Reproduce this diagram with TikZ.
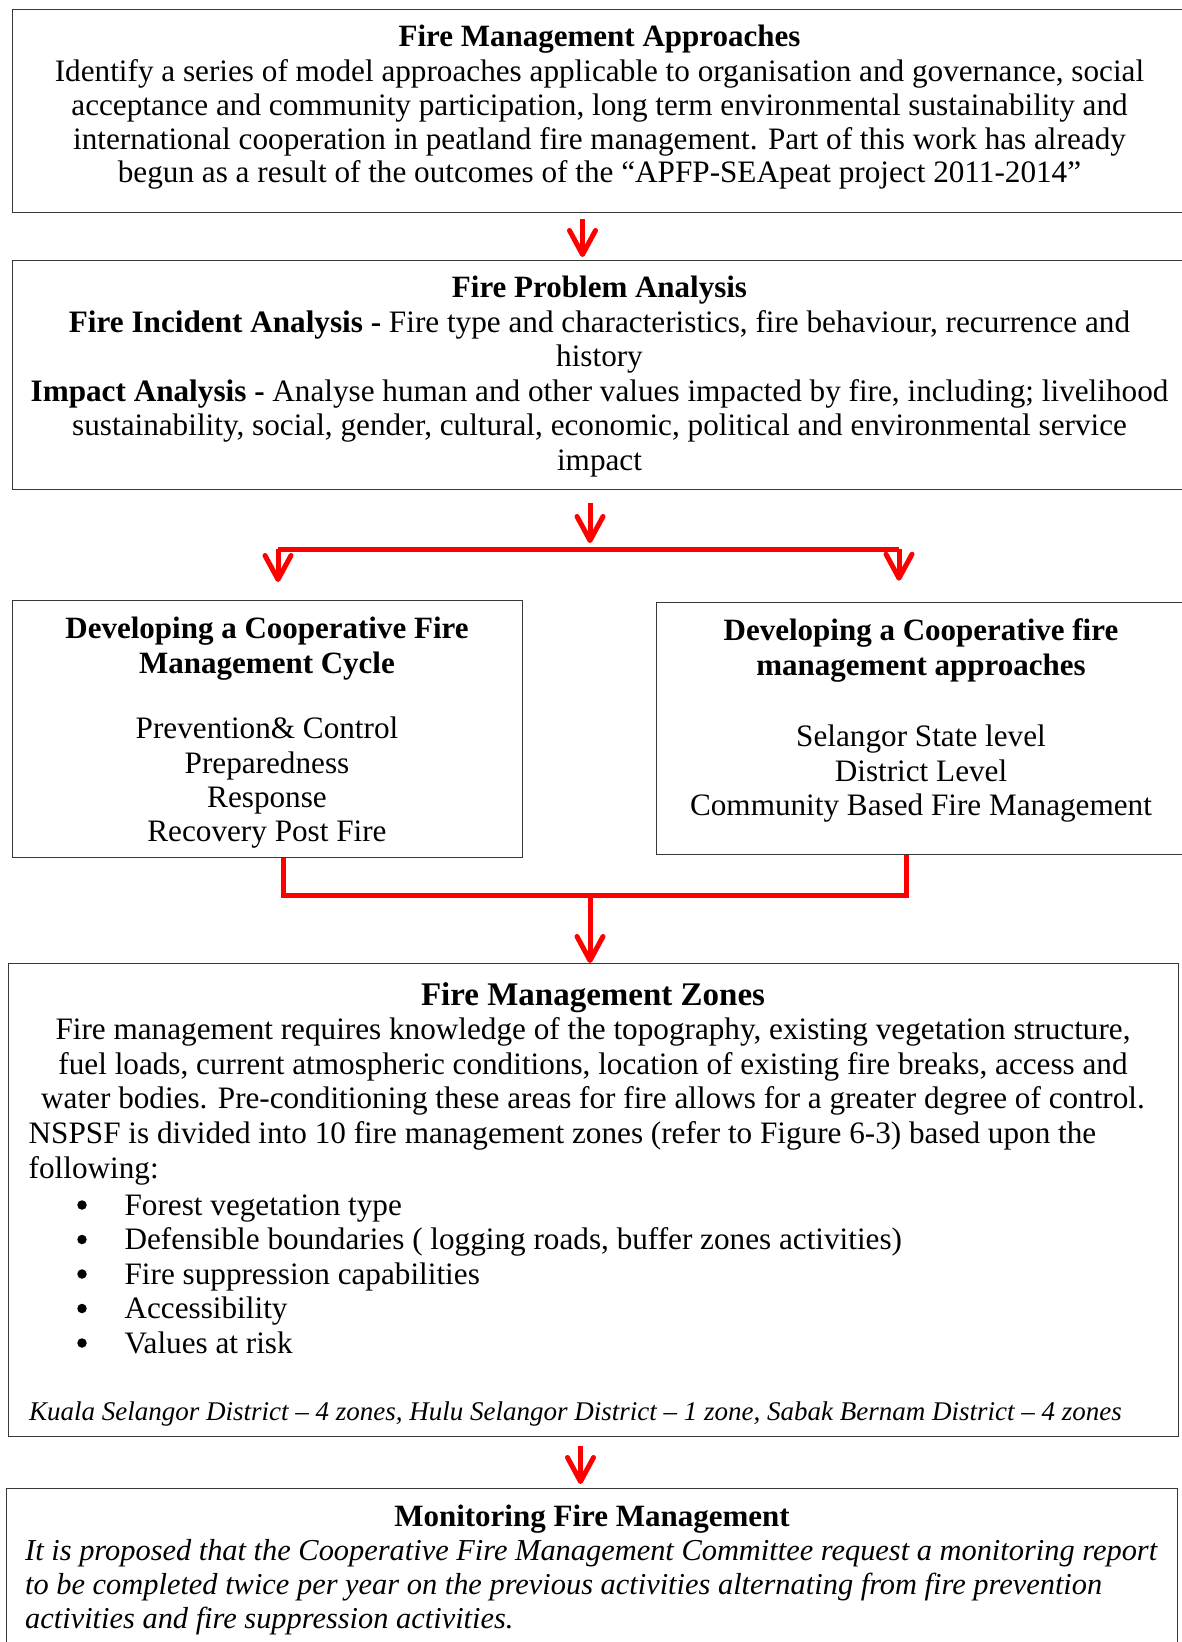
\documentclass[tikz,border=0pt]{standalone}
\usepackage{fontspec}
\setmainfont{Liberation Serif}
\usetikzlibrary{arrows.meta}

\tikzset{
  panel/.style={draw=black!78, line width=1.4pt, rectangle, inner sep=0pt, anchor=north west},
  txt/.style={inner sep=0pt, anchor=base, font=\fontsize{31.2}{34}\selectfont},
  txtl/.style={txt, anchor=base west},
  head/.style={txt, font=\fontsize{31}{34}\selectfont\bfseries},
  bighead/.style={txt, font=\fontsize{33}{36}\selectfont\bfseries},
  itl/.style={txtl, font=\fontsize{30.4}{34}\selectfont\itshape},
  smallitl/.style={txtl, font=\fontsize{27}{30}\selectfont\itshape},
  bulletdot/.style={circle, fill=black, inner sep=0pt, minimum size=9.5pt},
  flowline/.style={draw=red, line width=5pt},
  flow/.style={flowline, -{Straight Barb[length=24pt,width=26pt,round]}},
}

\begin{document}
\begin{tikzpicture}[x=1pt,y=-1pt]
\useasboundingbox (0,0) rectangle (1182,1642);
\clip (0,0) rectangle (1182,1642);
\fill[white] (0,0) rectangle (1182,1642);

% ---------- panels ----------
\node[panel, minimum width=1178.5pt, minimum height=203.5pt] (fma) at (11.5,8.5) {};
\node[panel, minimum width=1178.5pt, minimum height=229.5pt] (fpa) at (11.5,259.5) {};
\node[panel, minimum width=510.2pt,  minimum height=257pt]   (cyc) at (11.8,600) {};
\node[panel, minimum width=534.5pt,  minimum height=251.8pt] (app) at (655.5,601.7) {};
\node[panel, minimum width=1170pt,   minimum height=473pt]   (fmz) at (8,963) {};
\node[panel, minimum width=1171pt,   minimum height=212pt]   (mon) at (6,1488) {};

% ---------- Fire Management Approaches ----------
\node[head] (fmaT) at (599.5,46.5) {Fire Management Approaches};
\node[txt] (fma1) at (599.5,81.5) {Identify a series of model approaches applicable to organisation and governance, social};
\node[txt] (fma2) at (599.5,115.5) {acceptance and community participation, long term environmental sustainability and};
\node[txt] (fma3) at (599.5,149.5) {international cooperation in peatland fire management. Part of this work has already};
\node[txt] (fma4) at (599.5,182.5) {begun as a result of the outcomes of the “APFP-SEApeat project 2011-2014”};

% ---------- Fire Problem Analysis ----------
\node[head] (fpaT) at (599.5,297.5) {Fire Problem Analysis};
\node[txt] (fpa1) at (599.5,332) {\textbf{Fire Incident Analysis -} Fire type and characteristics, fire behaviour, recurrence and};
\node[txt] (fpa2) at (599.5,366.5) {history};
\node[txt] (fpa3) at (599.5,401) {\textbf{Impact Analysis -} Analyse human and other values impacted by fire, including; livelihood};
\node[txt] (fpa4) at (599.5,435.5) {sustainability, social, gender, cultural, economic, political and environmental service};
\node[txt] (fpa5) at (599.5,470) {impact};

% ---------- Cooperative fire management cycle ----------
\node[head] (cycT1) at (267,638) {Developing a Cooperative Fire};
\node[head] (cycT2) at (267,673) {Management Cycle};
\node[txt] (cyc1) at (267,738) {Prevention\& Control};
\node[txt] (cyc2) at (267,773) {Preparedness};
\node[txt] (cyc3) at (267,807) {Response};
\node[txt] (cyc4) at (267,841) {Recovery Post Fire};

% ---------- Cooperative fire management approaches ----------
\node[head] (appT1) at (921,640) {Developing a Cooperative fire};
\node[head] (appT2) at (921,675) {management approaches};
\node[txt] (app1) at (921,746.5) {Selangor State level};
\node[txt] (app2) at (921,781) {District Level};
\node[txt] (app3) at (921,815) {Community Based Fire Management};

% ---------- Fire Management Zones ----------
\node[bighead] (fmzT) at (593,1005) {Fire Management Zones};
\node[txt] (fmz1) at (593,1039.5) {Fire management requires knowledge of the topography, existing vegetation structure,};
\node[txt] (fmz2) at (593,1074) {fuel loads, current atmospheric conditions, location of existing fire breaks, access and};
\node[txt] (fmz3) at (593,1108.5) {water bodies. Pre-conditioning these areas for fire allows for a greater degree of control.};
\node[txtl] (fmz4) at (28.5,1143) {NSPSF is divided into 10 fire management zones (refer to Figure 6-3) based upon the};
\node[txtl] (fmz5) at (28.5,1178) {following:};
\foreach \y/\t [count=\i] in {1215/Forest vegetation type,
  1249.5/{Defensible boundaries ( logging roads, buffer zones activities)},
  1284/Fire suppression capabilities,
  1318.5/Accessibility,
  1353/Values at risk}{
  \node[bulletdot] (dot\i) at (82,\y-10) {};
  \node[txtl] (item\i) at (124.4,\y) {\t};
}
\node[smallitl] (fmzD) at (29,1420) {Kuala Selangor District – 4 zones, Hulu Selangor District – 1 zone, Sabak Bernam District – 4 zones};

% ---------- Monitoring Fire Management ----------
\node[head] (monT) at (592,1526.5) {Monitoring Fire Management};
\node[itl] (mon1) at (25,1560) {It is proposed that the Cooperative Fire Management Committee request a monitoring report};
\node[itl] (mon2) at (25,1594) {to be completed twice per year on the previous activities alternating from fire prevention};
\node[itl] (mon3) at (25,1628) {activities and fire suppression activities.};

% ---------- connectors ----------
\coordinate (c1) at (582.5,0);
\draw[flow, shorten <=6pt, shorten >=2.5pt] (fma.south -| c1) -- (fpa.north -| c1);

\coordinate (split) at (590,549);
\coordinate (splitL) at (278,549);
\coordinate (splitR) at (899,549);
\draw[flow, shorten <=13pt, shorten >=6pt] (fpa.south -| split) -- (split);
\draw[flowline] (splitL) -- (splitR);
\draw[flow, shorten >=18pt] (splitL) -- (cyc.north -| splitL);
\draw[flow, shorten >=21pt] (splitR) -- (app.north -| splitR);

\coordinate (joinL) at (283.5,895);
\coordinate (joinR) at (906,895);
\coordinate (join) at (590,895);
\draw[flowline] (cyc.south -| joinL) -- (joinL) -- (joinR) -- (app.south -| joinR);
\draw[flow] (join) -- (fmz.north -| join);

\coordinate (c4) at (580.5,0);
\draw[flow, shorten <=9pt, shorten >=4pt] (fmz.south -| c4) -- (mon.north -| c4);
\end{tikzpicture}
\end{document}
